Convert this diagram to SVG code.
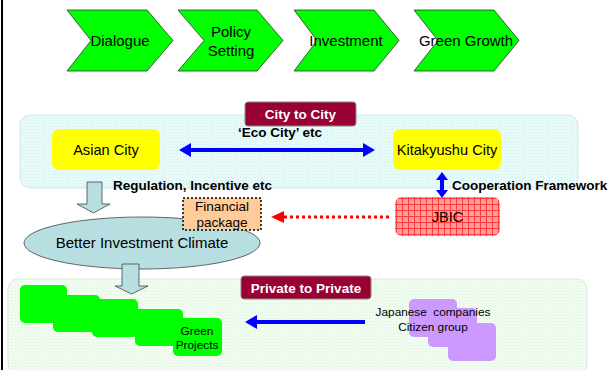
<svg xmlns="http://www.w3.org/2000/svg" width="609" height="370" viewBox="0 0 609 370">
<style>
text{font-family:"Liberation Sans",Arial,sans-serif;fill:#000}
.chev{fill:#00FF00;stroke:#333;stroke-width:0.8}
.t15{font-size:15px;text-anchor:middle}
.b{font-weight:bold;font-size:13.5px}
.lbl{fill:#990033;stroke:#8a8a8a;stroke-width:1}
.lt{fill:#fff;font-weight:bold;font-size:13.5px;text-anchor:middle}
.yel{fill:#FFFF00}
.blk{fill:#B7DEE0;stroke:#444;stroke-width:0.8}
.grn{fill:#00FF00}
.pur{fill:#CC99FF}
.blue{fill:#0000FF}
.s{font-size:11.8px;text-anchor:middle}
</style>
<defs>
<pattern id="dotc" width="3" height="3" patternUnits="userSpaceOnUse">
<rect width="3" height="3" fill="#E6FAFA"/><rect width="1" height="1" fill="#D2EEEE"/>
</pattern>
<pattern id="dotg" width="3" height="3" patternUnits="userSpaceOnUse">
<rect width="3" height="3" fill="#F0FCF0"/><rect width="1" height="1" fill="#DDF3DD"/>
</pattern>
<pattern id="grid" width="6" height="6" patternUnits="userSpaceOnUse">
<rect width="6" height="6" fill="#FF9C9C"/>
<path d="M0 0.5H6M0.5 0V6" stroke="#FF3A3A" stroke-width="1"/>
</pattern>
</defs>
<rect x="1" y="0" width="2" height="370" fill="#000"/>
<rect x="20" y="115" width="558" height="73" rx="10" fill="url(#dotc)" stroke="#D0E6E6" stroke-width="1"/>
<rect x="8" y="279" width="579" height="95" rx="10" fill="url(#dotg)" stroke="#DCE8DC" stroke-width="1"/>

<g id="chev-dialogue">
<polygon class="chev" points="67,10 147,10 173,40.5 147,71 67,71 91,40.5"/>
<text class="t15" x="120" y="46">Dialogue</text>
</g>
<g id="chev-policy">
<polygon class="chev" points="178,10 257,10 283,40.5 257,71 178,71 204,40.5"/>
<text class="t15" x="231" y="37">Policy</text>
<text class="t15" x="231" y="56">Setting</text>
</g>
<g id="chev-investment">
<polygon class="chev" points="294,10 374,10 399,40.5 374,71 294,71 317,40.5"/>
<text class="t15" x="346" y="46">Investment</text>
</g>
<g id="chev-green">
<polygon class="chev" points="414,10 494,10 519,40.5 494,71 414,71 438,40.5"/>
<text class="t15" x="466" y="46">Green Growth</text>
</g>

<g id="label-city">
<rect class="lbl" x="245" y="102" width="111" height="24" rx="3"/>
<text class="lt" x="300.5" y="119">City to City</text>
</g>
<g id="asian-city">
<rect class="yel" x="52" y="129" width="108" height="41" rx="7"/>
<text x="106" y="155" style="font-size:14.6px;text-anchor:middle">Asian City</text>
</g>
<g id="kitakyushu">
<rect class="yel" x="393" y="129" width="108" height="41" rx="7"/>
<text x="447" y="155" style="font-size:14.6px;text-anchor:middle">Kitakyushu City</text>
</g>
<g id="jbic">
<rect x="395" y="197" width="105" height="39" rx="7" fill="url(#grid)"/>
<text x="447.5" y="222" style="font-size:14.6px;text-anchor:middle">JBIC</text>
</g>
<g id="climate">
<ellipse class="blk" cx="142" cy="243" rx="118" ry="26"/>
<text class="t15" x="142" y="248">Better Investment Climate</text>
</g>
<g id="financial">
<rect x="183" y="198" width="78" height="32" fill="#FFCC99" stroke="#000" stroke-width="1.5" stroke-dasharray="2,2"/>
<text x="222" y="211" style="font-size:13.5px;text-anchor:middle">Financial</text>
<text x="222" y="227" style="font-size:13.5px;text-anchor:middle">package</text>
</g>
<g id="label-private">
<rect class="lbl" x="241" y="276" width="130" height="23" rx="3"/>
<text class="lt" x="306" y="292.5">Private to Private</text>
</g>
<g id="green-projects">
<rect class="grn" x="20" y="285" width="47" height="38" rx="5"/>
<rect class="grn" x="53" y="295" width="47" height="37" rx="5"/>
<rect class="grn" x="92" y="299" width="46" height="38" rx="5"/>
<rect class="grn" x="135" y="309" width="48" height="37" rx="5"/>
<rect class="grn" x="173" y="318" width="49" height="38" rx="5"/>
<text class="s" x="197" y="335">Green</text>
<text class="s" x="197" y="349">Projects</text>
</g>
<g id="japanese">
<rect class="pur" x="409" y="299" width="48" height="38" rx="5"/>
<rect class="pur" x="428" y="308" width="49" height="39" rx="5"/>
<rect class="pur" x="448" y="323" width="48" height="38" rx="5"/>
<text class="s" x="433" y="316" xml:space="preserve">Japanese  companies</text>
<text class="s" x="433" y="331">Citizen group</text>
</g>

<g id="connectors">
<polygon class="blk" points="87,182 102,182 102,204 110,204 93.5,213 77,204 87,204"/>
<polygon class="blk" points="122,264 139,264 139,286 148,286 131.5,294 115,286 122,286"/>
<polygon class="blue" points="179,150 191,143 191,148 363,148 363,143 375,150 363,157 363,152 191,152 191,157"/>
<polygon class="blue" points="442,172 448,180 444,180 444,190 448,190 442,198 436,190 440,190 440,180 436,180"/>
<line x1="389" y1="217" x2="284" y2="217" stroke="#FF0000" stroke-width="3" stroke-dasharray="3,3"/>
<polygon points="271,217 284,211 284,223" fill="#FF0000"/>
<polygon class="blue" points="245,322 257,315 257,320 365,320 365,324 257,324 257,329"/>
<text class="b" x="280" y="137" text-anchor="middle">‘Eco City’ etc</text>
<text class="b" x="113" y="190">Regulation, Incentive etc</text>
<text class="b" x="452" y="190">Cooperation Framework</text>
</g>
</svg>
